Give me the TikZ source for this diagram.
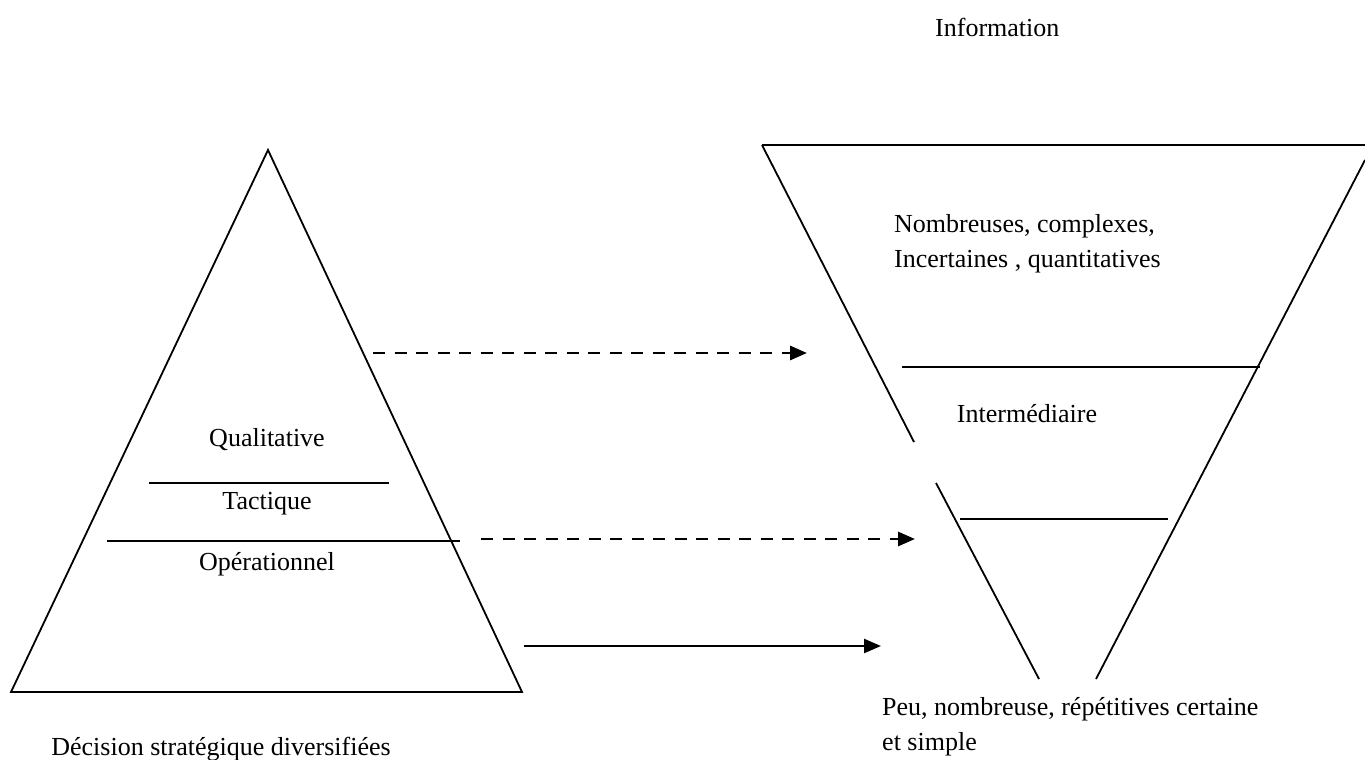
\documentclass[tikz,border=0pt]{standalone}
\usepackage{fontspec}
\setmainfont{Liberation Serif}
\usetikzlibrary{arrows.meta}
\begin{document}
\begin{tikzpicture}[x=1pt,y=-1pt,
  edge/.style={line width=1.8pt, line join=miter},
  lbl/.style={inner sep=0pt, font=\fontsize{26}{35}\selectfont},
  link/.style={line width=2.4pt, -{Triangle[length=17pt,width=14pt]}},
  dashlink/.style={link, line width=2.8pt, dash pattern=on 12pt off 9.5pt}]
\useasboundingbox (0,0) rectangle (1365,760);

% decision pyramid
\coordinate (pA) at (268,150);
\coordinate (pR) at (522,692);
\coordinate (pL) at (11,692);
\draw[edge] (pA) -- (pR) -- (pL) -- cycle;
\coordinate (q1) at (149,483); \coordinate (q2) at (389,483);
\coordinate (o1) at (107,541); \coordinate (o2) at (460,541);
\draw[edge] (q1) -- (q2);
\draw[edge] (o1) -- (o2);
\node[lbl, anchor=base] (qual) at (267,446) {Qualitative};
\node[lbl, anchor=base] (tact) at (267,509) {Tactique};
\node[lbl, anchor=base] (oper) at (267,570) {Opérationnel};
\node[lbl, anchor=base] (dec) at (221,755) {Décision stratégique diversifiées};

% information funnel
\coordinate (fTL) at (762,145);
\coordinate (fTR) at (1365,145);
\coordinate (fR0) at (1365,160);
\coordinate (fR1) at (1096,679);
\coordinate (fL0) at (914,442);
\coordinate (fL1) at (936,483);
\coordinate (fL2) at (1039,679);
\draw[edge] (fTL) -- (fTR);
\draw[edge] (fR0) -- (fR1);
\draw[edge] (fTL) -- (fL0);
\draw[edge] (fL1) -- (fL2);
\coordinate (h1) at (902,367); \coordinate (h2) at (1260,367);
\coordinate (k1) at (960,519); \coordinate (k2) at (1168,519);
\draw[edge] (h1) -- (h2);
\draw[edge] (k1) -- (k2);
\node[lbl, anchor=base west] (info) at (935,37) {Information};
% for a two-line label the base anchor sits on the last line
\node[lbl, anchor=base west, align=left] (top) at (894,267)
  {Nombreuses, complexes,\\Incertaines , quantitatives};
\node[lbl, anchor=base] (mid) at (1027,422) {Intermédiaire};
\node[lbl, anchor=base west, align=left] (low) at (882,750)
  {Peu, nombreuse, répétitives certaine\\et simple};

% links between the levels
\coordinate (a1s) at (373,353); \coordinate (a1e) at (807,353);
\coordinate (a2s) at (481,539); \coordinate (a2e) at (915,539);
\coordinate (a3s) at (524,646); \coordinate (a3e) at (881,646);
\draw[dashlink] (a1s) -- (a1e);
\draw[dashlink] (a2s) -- (a2e);
\draw[link] (a3s) -- (a3e);
\end{tikzpicture}
\end{document}
